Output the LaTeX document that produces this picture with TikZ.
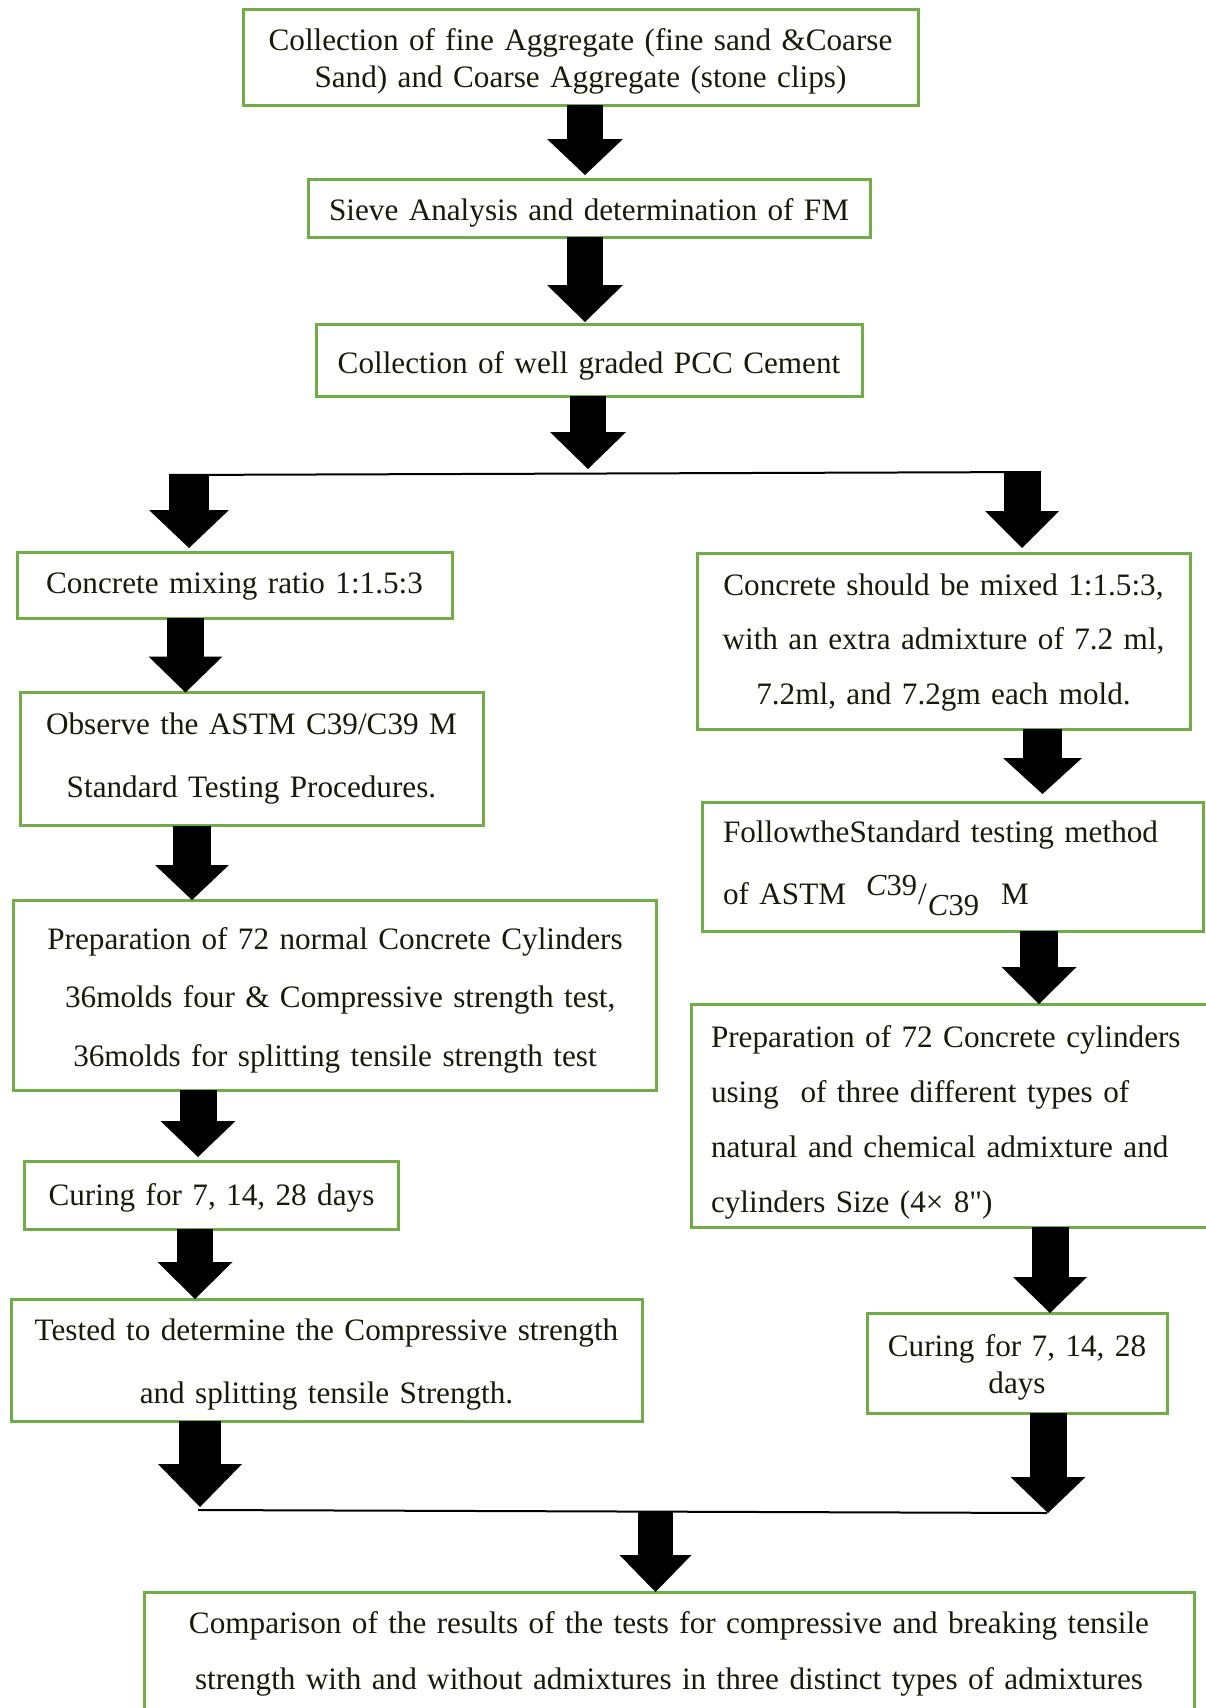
\documentclass[tikz,border=0pt]{standalone}
\usepackage{fontspec}
\setmainfont{Liberation Serif}
\newfontfamily\plainserif{Liberation Serif}
\usetikzlibrary{arrows.meta}
\definecolor{boxgreen}{HTML}{70AD47}
\definecolor{txt}{HTML}{1A1A0A}
\newcommand\myfs[1]{\fontsize{31.2}{#1}\selectfont}
\begin{document}
\begin{tikzpicture}[x=1pt,y=-1pt,
  box/.style={draw=boxgreen,line width=3pt,inner sep=0pt,outer sep=0pt},
  lbl/.style={inner sep=0pt,outer sep=0pt,text=txt,align=center},
  fat/.style n args={3}{line width=#1,line cap=butt,-{Triangle[length=#3,width=#2,line width=0pt]}},
  thinline/.style={line width=2pt,black}]
\useasboundingbox[fill=white] (0,0) rectangle (1205,1708);

% ---- boxes
\node[box,minimum width=675pt,minimum height=96pt] (top) at (580.5,57) {};
\node[box,minimum width=562pt,minimum height=58pt] (sieve) at (589,208) {};
\node[box,minimum width=546pt,minimum height=72pt] (pcc) at (589,360) {};
\node[box,minimum width=435pt,minimum height=66pt] (mix) at (234.5,585) {};
\node[box,minimum width=463pt,minimum height=133pt] (obs) at (251.5,759) {};
\node[box,minimum width=643pt,minimum height=190pt] (prep) at (335,995) {};
\node[box,minimum width=374pt,minimum height=68pt] (cur) at (211.5,1195) {};
\node[box,minimum width=631pt,minimum height=122pt] (test) at (326.5,1360) {};
\node[box,minimum width=493pt,minimum height=176pt] (rmix) at (943.5,641) {};
\node[box,minimum width=501pt,minimum height=129pt] (rstd) at (952.5,866.5) {};
\node[box,minimum width=534pt,minimum height=223pt] (rprep) at (958,1115.5) {};
\node[box,minimum width=300pt,minimum height=100pt] (rcur) at (1017,1363) {};
\node[box,minimum width=1050pt,minimum height=120pt] (bot) at (669,1652) {};

% ---- texts
\node[lbl,text width=668pt,font=\myfs{37pt}] (topT) at (580.5,61.5)
  {Collection of fine Aggregate (fine sand \&Coarse\\Sand) and Coarse Aggregate (stone clips)};
\node[lbl,text width=555pt,font=\myfs{37pt}] (sieveT) at (589,212.5)
  {Sieve Analysis and determination of FM};
\node[lbl,text width=540pt,font=\myfs{37pt}] (pccT) at (589,365.5)
  {Collection of well graded PCC Cement};
\node[lbl,text width=428pt,font=\myfs{37pt}] (mixT) at (234.5,587)
  {Concrete mixing ratio 1:1.5:3};
\node[lbl,text width=456pt,font=\myfs{63pt}] (obsT) at (251.5,759)
  {Observe the ASTM C39/C39 M\\Standard Testing Procedures.};
\node[lbl,text width=636pt,font=\myfs{58.5pt}] (prepT) at (335,1000)
  {Preparation of 72 normal Concrete Cylinders\\\ 36molds four \& Compressive strength test,\\36molds for splitting tensile strength test};
\node[lbl,text width=368pt,font=\myfs{37pt}] (curT) at (211.5,1198)
  {Curing for 7, 14, 28 days};
\node[lbl,text width=624pt,font=\myfs{63pt}] (testT) at (326.5,1365)
  {Tested to determine the Compressive strength\\and splitting tensile Strength.};
\node[lbl,text width=486pt,font=\myfs{54.5pt}] (rmixT) at (943.5,642.5)
  {Concrete should be mixed 1:1.5:3,\\with an extra admixture of 7.2 ml,\\7.2ml, and 7.2gm each mold.};
\node[lbl,text width=459pt,align=left,font=\myfs{62pt}] (rstdT) at (952.5,868.5)
  {FollowtheStandard testing method\\of ASTM\hspace{20pt}\raisebox{9pt}{\fontsize{30.5}{30}\selectfont\textit{C}39}\kern1pt/\kern1pt\raisebox{-11pt}{\fontsize{30.5}{30}\selectfont\textit{C}39}\hspace{22pt}M};
\node[lbl,text width=494pt,align=left,font=\myfs{55pt}] (rprepT) at (958,1122)
  {Preparation of 72 Concrete cylinders\\using\hspace{22pt}of three different types of\\natural and chemical admixture and\\cylinders Size (4× 8{\plainserif "})};
\node[lbl,text width=294pt,font=\myfs{37pt}] (rcurT) at (1017,1367.5)
  {Curing for 7, 14, 28\\days};
\node[lbl,text width=1040pt,font=\myfs{56pt}] (botT) at (669,1654)
  {Comparison of the results of the tests for compressive and breaking tensile\\strength with and without admixtures in three distinct types of admixtures};

% ---- helper coordinates
\coordinate (c1) at (585,0);
\coordinate (sM) at (588,469);
\coordinate (sL) at (169,475);
\coordinate (sR) at (1041,472);
\coordinate (bl) at (189,475);
\coordinate (br) at (1022,472);
\coordinate (c6) at (185.5,0);
\coordinate (c7) at (192,0);
\coordinate (c8) at (198,0);
\coordinate (c9) at (195,0);
\coordinate (c10) at (200,1507);
\coordinate (jL) at (198,1510);
\coordinate (jR) at (1047,1513);
\coordinate (c11) at (1048,1513);
\coordinate (c12) at (655.5,1512);
\coordinate (r1) at (1042.5,0);
\coordinate (r2) at (1039,0);
\coordinate (r3) at (1050,0);

% ---- lines
\draw[thinline] (sL) -- (sR);
\draw[thinline] (jL) -- (jR);

% ---- block arrows
\draw[fat={36pt}{76pt}{36pt},shorten >=4pt] (top.south -| c1) -- (sieve.north -| c1);
\draw[fat={36pt}{76pt}{37pt},shorten >=2pt] (sieve.south -| c1) -- (pcc.north -| c1);
\draw[fat={36pt}{76pt}{37pt}] (pcc.south -| sM) -- (sM);
\draw[fat={40pt}{80pt}{38pt},shorten >=4pt] (bl) -- (mix.north -| bl);
\draw[fat={37pt}{74pt}{37pt},shorten >=5pt] (br) -- (rmix.north -| br);
\draw[fat={37pt}{74pt}{36pt}] (mix.south -| c6) -- (obs.north -| c6);
\draw[fat={38pt}{74pt}{35pt}] (obs.south -| c7) -- (prep.north -| c7);
\draw[fat={37pt}{75pt}{36pt},shorten >=4pt] (prep.south -| c8) -- (cur.north -| c8);
\draw[fat={36pt}{75pt}{37pt}] (cur.south -| c9) -- (test.north -| c9);
\draw[fat={42pt}{84pt}{43pt}] (test.south -| c10) -- (c10);
\draw[fat={37pt}{75pt}{36pt}] (rcur.south -| c11) -- (c11);
\draw[fat={35pt}{72pt}{37pt}] (c12) -- (bot.north -| c12);
\draw[fat={39pt}{79pt}{36pt},shorten >=8pt] (rmix.south -| r1) -- (rstd.north -| r1);
\draw[fat={38pt}{75pt}{37pt}] (rstd.south -| r2) -- (rprep.north -| r2);
\draw[fat={37pt}{74pt}{36pt}] (rprep.south -| r3) -- (rcur.north -| r3);
\end{tikzpicture}
\end{document}
